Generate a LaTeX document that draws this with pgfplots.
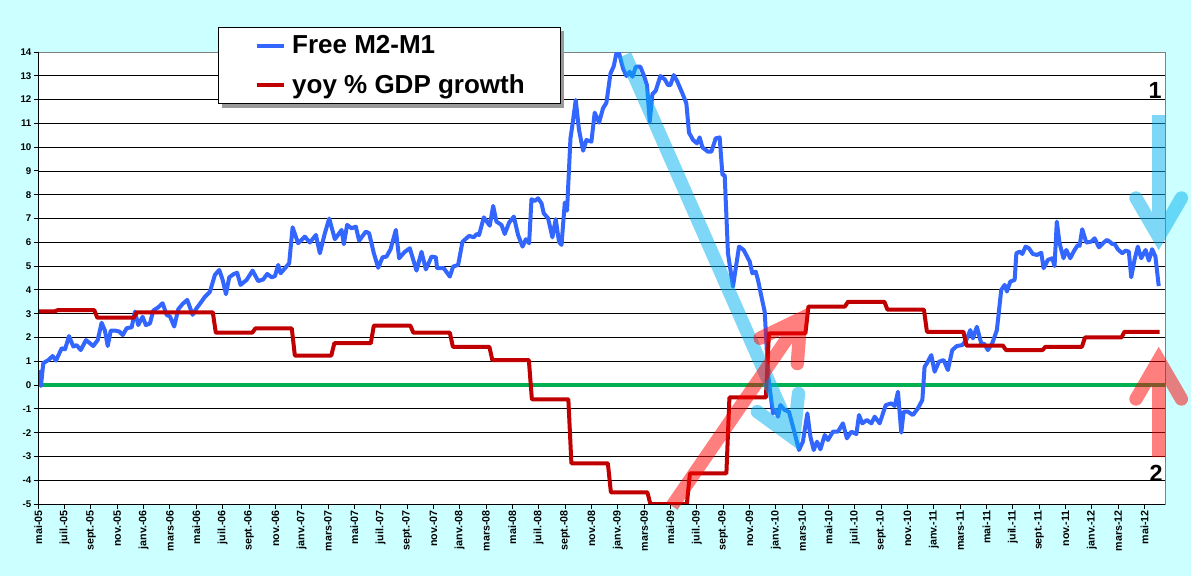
\documentclass[border=0pt]{standalone}
\usepackage{fontspec}
\setmainfont{Liberation Sans}
\usepackage{pgfplots}
\pgfplotsset{compat=1.18}
\definecolor{bgcyan}{HTML}{CCFFFF}
\definecolor{m2blue}{HTML}{3366FF}
\definecolor{gdpred}{HTML}{C00000}
\definecolor{zgreen}{HTML}{00B050}
\definecolor{arrblue}{HTML}{00B0F0}
\definecolor{arrred}{HTML}{FF0000}
\begin{document}
\begin{tikzpicture}
\begin{scope}[shift={(-28.725pt,378pt)},x=0.75pt,y=-0.75pt]
\path[use as bounding box, fill=bgcyan] (0,0) rectangle (1191,576);
\end{scope}
\begin{axis}[
  at={(0,0)}, anchor=south west, scale only axis,
  width=845.25pt, height=339pt,
  xmin=0, xmax=85.58, ymin=-5, ymax=14,
  clip mode=individual,
  axis background/.style={fill=white},
  axis line style={draw=gray, line width=0.75pt},
  xtick={0,2,...,84},
  xticklabels={mai-05,juil.-05,sept.-05,nov.-05,
    janv.-06,mars-06,mai-06,juil.-06,sept.-06,nov.-06,
    janv.-07,mars-07,mai-07,juil.-07,sept.-07,nov.-07,
    janv.-08,mars-08,mai-08,juil.-08,sept.-08,nov.-08,
    janv.-09,mars-09,mai-09,juil.-09,sept.-09,nov.-09,
    janv.-10,mars-10,mai-10,juil.-10,sept.-10,nov.-10,
    janv.-11,mars-11,mai-11,juil.-11,sept.-11,nov.-11,
    janv.-12,mars-12,mai-12},
  ytick={-5,-4,-3,-2,-1,0,1,2,3,4,5,6,7,8,9,10,11,12,13,14},
  yticklabels={-5,-4,-3,-2,-1,0,1,2,3,4,5,6,7,8,9,10,11,12,13,14},
  tick align=outside, tick pos=left,
  major tick length=3.5pt,
  tick style={black, line width=0.75pt},
  ymajorgrids, major grid style={black, line width=0.6pt},
  xticklabel style={rotate=90, anchor=east, font=\fontsize{8}{9}\selectfont\bfseries, inner sep=1pt},
  yticklabel style={font=\fontsize{7.3}{8}\selectfont\bfseries, inner sep=1.5pt},
  legend style={at={(0.1595,1.0553)}, anchor=north west, draw=black, line width=0.75pt, fill=white,
    font=\fontsize{19.5}{22}\selectfont\bfseries,
    inner xsep=27pt, inner ysep=6.2pt, row sep=13.9pt,
    nodes={inner sep=0pt},
    cells={anchor=west},
    /tikz/every odd column/.append style={column sep=4.5pt}},
  legend image code/.code={\draw[#1] (0pt,0pt) -- (20.7pt,0pt);},
  every axis plot/.append style={line width=3pt, line join=round},
]
\addplot[zgreen, forget plot] coordinates {(0,0) (85.58,0)};
\addplot[m2blue] coordinates {
(0.08,0.63) (0.2,-0.04) (0.38,0.92) (0.76,1.05) (1.09,1.22) (1.34,1.03) (1.78,1.55) (2.03,1.50) (2.33,2.06) (2.66,1.62) (2.91,1.68) (3.22,1.47) (3.62,1.89) (3.87,1.78) (4.17,1.64) (4.51,1.89) (4.81,2.62) (5.06,2.29) (5.27,1.64) (5.5,2.29) (5.82,2.29) (6.15,2.25) (6.41,2.10) (6.71,2.39) (7.09,2.43) (7.34,3.09) (7.59,2.52) (7.92,2.87) (8.17,2.52) (8.48,2.59) (8.73,3.13) (9.11,3.27) (9.44,3.44) (9.75,2.95) (10.0,2.88) (10.32,2.46) (10.63,3.19) (10.96,3.41) (11.31,3.58) (11.72,2.95) (11.97,3.19) (12.33,3.46) (12.65,3.71) (13.03,3.92) (13.41,4.63) (13.74,4.84) (14.0,4.42) (14.25,3.82) (14.5,4.53) (14.85,4.67) (15.1,4.72) (15.36,4.21) (15.82,4.42) (16.27,4.81) (16.7,4.37) (17.08,4.44) (17.38,4.67) (17.72,4.53) (17.97,4.58) (18.22,5.05) (18.4,4.70) (18.73,4.91) (19.05,5.12) (19.31,6.63) (19.73,5.96) (20.24,6.24) (20.62,5.99) (21.08,6.31) (21.38,5.54) (21.76,6.38) (22.09,7.0) (22.52,6.13) (23.03,6.52) (23.2,5.92) (23.45,6.73) (23.79,6.59) (24.11,6.66) (24.36,6.07) (24.87,6.45) (25.12,6.38) (25.48,5.54) (25.81,4.93) (26.14,5.37) (26.44,5.40) (26.75,5.71) (27.15,6.52) (27.4,5.33) (27.83,5.60) (28.21,5.75) (28.72,4.81) (29.1,5.60) (29.43,4.86) (29.86,5.40) (30.19,5.37) (30.28,4.91) (30.79,4.91) (31.25,4.56) (31.5,4.98) (31.88,5.05) (32.21,6.02) (32.71,6.27) (33.07,6.21) (33.28,6.35) (33.47,6.31) (33.83,7.05) (34.28,6.70) (34.54,7.53) (34.79,6.87) (35.17,6.73) (35.42,6.35) (35.75,6.83) (36.11,7.08) (36.43,6.31) (36.77,5.82) (37.02,6.13) (37.27,5.96) (37.45,7.81) (37.7,7.74) (37.95,7.85) (38.21,7.64) (38.38,7.22) (38.71,7.01) (39.04,6.21) (39.29,6.97) (39.54,6.02) (39.73,5.89) (39.98,7.67) (40.15,7.33) (40.41,10.37) (40.61,11.14) (40.81,11.98) (41.06,10.72) (41.37,9.85) (41.62,10.30) (42.0,10.23) (42.25,11.45) (42.58,11.03) (42.88,11.63) (43.14,11.87) (43.45,13.10) (43.7,13.41) (43.9,13.95) (44.1,13.95) (44.4,13.31) (44.66,12.99) (44.91,13.17) (45.12,12.96) (45.37,13.38) (45.72,13.38) (45.97,13.03) (46.22,12.61) (46.43,11.07) (46.63,12.23) (46.88,12.37) (47.24,12.99) (47.57,12.85) (47.82,12.61) (48.0,12.61) (48.25,13.03) (48.5,12.79) (48.91,12.26) (49.21,11.84) (49.41,10.61) (49.72,10.30) (50.02,10.16) (50.22,10.41) (50.43,9.99) (50.85,9.81) (51.11,9.81) (51.44,10.37) (51.74,10.41) (51.95,8.83) (52.12,8.83) (52.37,5.54) (52.75,4.14) (53.21,5.82) (53.56,5.68) (54.02,5.19) (54.22,4.70) (54.47,4.77) (54.65,4.42) (54.91,3.72) (55.16,3.08) (55.29,1.76) (55.41,0.49) (55.59,-0.35) (55.79,-1.19) (55.99,-1.05) (56.17,-1.33) (56.35,-0.84) (56.68,-1.05) (57.0,-1.12) (57.44,-2.03) (57.76,-2.73) (58.06,-2.38) (58.4,-1.19) (58.63,-2.17) (58.88,-2.73) (59.13,-2.38) (59.39,-2.70) (59.72,-2.10) (59.96,-2.31) (60.34,-1.96) (60.72,-1.96) (61.1,-1.61) (61.4,-2.24) (61.74,-1.96) (62.12,-2.06) (62.32,-1.26) (62.57,-1.61) (62.92,-1.47) (63.26,-1.61) (63.51,-1.33) (63.89,-1.61) (64.35,-0.84) (64.78,-0.77) (65.03,-0.88) (65.28,-0.28) (65.53,-2.0) (65.71,-1.12) (66.03,-1.12) (66.41,-1.26) (66.79,-0.98) (67.13,-0.63) (67.3,0.77) (67.48,0.92) (67.81,1.26) (68.06,0.56) (68.39,0.98) (68.75,1.05) (69.07,0.63) (69.4,1.47) (69.75,1.64) (70.16,1.68) (70.47,1.89) (70.77,2.31) (70.97,1.96) (71.27,2.45) (71.6,1.76) (71.85,1.72) (72.1,1.47) (72.44,1.76) (72.79,2.31) (73.12,4.0) (73.38,4.21) (73.55,3.93) (73.81,4.35) (74.14,4.42) (74.27,5.54) (74.52,5.61) (74.72,5.51) (74.97,5.82) (75.22,5.75) (75.52,5.51) (75.83,5.47) (76.16,5.56) (76.34,4.91) (76.66,5.26) (77.0,5.33) (77.17,5.0) (77.34,6.87) (77.55,5.96) (77.85,5.33) (78.06,5.68) (78.36,5.33) (78.69,5.68) (78.94,5.89) (79.07,5.85) (79.27,6.55) (79.58,5.99) (79.96,6.03) (80.21,6.17) (80.54,5.79) (80.84,5.96) (81.14,6.10) (81.35,6.03) (81.55,5.93) (81.73,5.93) (81.97,5.71) (82.31,5.54) (82.56,5.65) (82.81,5.61) (82.99,4.53) (83.24,5.26) (83.49,5.82) (83.75,5.33) (84.08,5.68) (84.33,5.23) (84.58,5.71) (84.83,5.40) (85.08,4.16)
};
\addlegendentry{Free M2-M1}
\addplot[gdpred] coordinates {
(0,3.10) (1.25,3.10) (1.48,3.15) (4.25,3.15) (4.48,2.83) (7.25,2.83) (7.48,3.06) (13.25,3.06) (13.48,2.20) (16.25,2.20) (16.48,2.38) (19.25,2.38) (19.48,1.24) (22.25,1.24) (22.48,1.76) (25.25,1.76) (25.48,2.50) (28.25,2.50) (28.48,2.20) (31.25,2.20) (31.48,1.61) (34.25,1.61) (34.48,1.05) (37.25,1.05) (37.48,-0.60) (40.25,-0.60) (40.48,-3.29) (43.25,-3.29) (43.48,-4.51) (46.25,-4.51) (46.48,-5.0) (49.25,-5.0) (49.48,-3.71) (52.25,-3.71) (52.48,-0.52) (55.25,-0.52) (55.48,2.17) (58.25,2.17) (58.48,3.30) (61.25,3.30) (61.48,3.50) (64.25,3.50) (64.48,3.17) (67.25,3.17) (67.48,2.24) (70.25,2.24) (70.48,1.66) (73.25,1.66) (73.48,1.47) (76.25,1.47) (76.48,1.61) (79.25,1.61) (79.48,2.00) (82.25,2.00) (82.48,2.24) (85.14,2.24)
};
\addlegendentry{yoy \% GDP growth}
\fill[black!40] (axis description cs:0.1632,1.0465) rectangle (axis description cs:0.4665,0.8762);
\end{axis}
\begin{scope}[shift={(-28.725pt,378pt)},x=0.75pt,y=-0.75pt]
\draw[black, line width=0.75pt] (38.3,52) -- (38.3,504) -- (1165.3,504);
\begin{scope}[transparency group, opacity=0.5]
\draw[arrblue, line width=10pt, line cap=butt] (625,55) -- (793.7,438.1);
\draw[arrblue, line width=10pt, line cap=round, line join=miter] (798.5,393.4) -- (793.7,438.1) -- (757.3,411.6);
\end{scope}
\begin{scope}[transparency group, opacity=0.5]
\draw[arrred, line width=10pt, line cap=butt] (672,506) -- (800.7,318.7);
\draw[arrred, line width=10pt, line cap=round, line join=miter] (760.1,338.2) -- (800.7,318.7) -- (797.3,363.6);
\end{scope}
\begin{scope}[transparency group, opacity=0.5]
\draw[arrblue, line width=10pt, line cap=butt] (1158.7,115) -- (1158.7,237);
\draw[arrblue, line width=10pt, line cap=round, line join=miter] (1136,198) -- (1158.7,237) -- (1181.4,198);
\end{scope}
\begin{scope}[transparency group, opacity=0.5]
\draw[arrred, line width=10pt, line cap=butt] (1158.7,457) -- (1158.7,360);
\draw[arrred, line width=10pt, line cap=round, line join=miter] (1136,399) -- (1158.7,360) -- (1181.4,399);
\end{scope}
\node[font=\fontsize{17.5}{18}\selectfont\bfseries, inner sep=0pt] at (1155,90) {1};
\node[font=\fontsize{17.5}{18}\selectfont\bfseries, inner sep=0pt] at (1156,473) {2};
\end{scope}
\end{tikzpicture}
\end{document}
